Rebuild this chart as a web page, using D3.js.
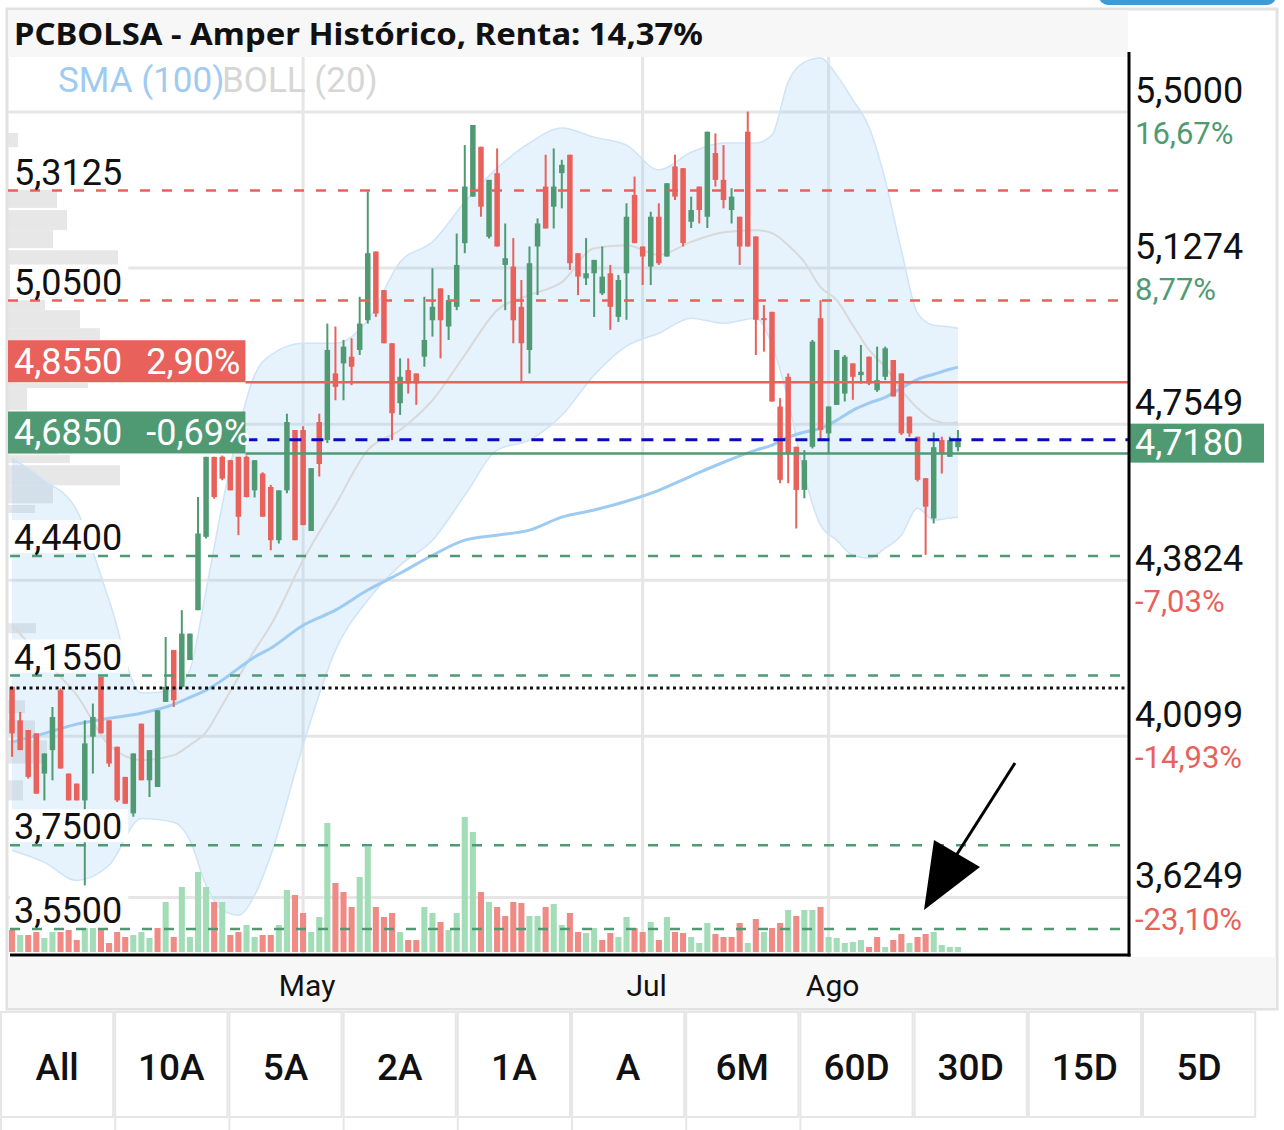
<!DOCTYPE html>
<html lang="es">
  <head>
    <meta charset="UTF-8" />
    <title>PCBOLSA - Amper Histórico</title>
    <script src="https://d3js.org/d3.v7.min.js"></script>
    <style>
      body { margin: 0; background: #fff; }
      svg { display: block; }
    </style>
  </head>
  <body>
    <div class="chart"></div>
    <script>
      // ---- datos (una fila por sesion, 8-mar-2024 a 23-ago-2024) ----
      const opens = [
        4.128, 4.048, 4.025, 4.017, 3.921, 3.977, 4.120, 3.921, 3.897, 3.857,
        4.009, 4.152, 4.048, 3.985, 3.913, 3.826, 4.040, 3.905, 3.889, 4.092,
        4.216, 4.128, 4.192, 4.311, 4.486, 4.677, 4.677, 4.669, 4.677, 4.677,
        4.597, 4.637, 4.605, 4.478, 4.597, 4.741, 4.741, 4.500, 4.760, 4.717,
        4.876, 4.900, 4.916, 4.932, 5.003, 5.167, 5.075, 4.948, 4.805, 4.884,
        4.876, 4.916, 5.003, 5.079, 4.988, 5.035, 5.187, 5.298, 5.417, 5.202,
        5.354, 5.135, 5.131, 5.035, 4.932, 5.179, 5.322, 5.274, 5.354, 5.398,
        5.163, 5.103, 5.115, 5.067, 5.115, 5.011, 5.115, 5.302, 5.179, 5.131,
        5.250, 5.155, 5.370, 5.366, 5.238, 5.322, 5.250, 5.402, 5.338, 5.266,
        5.250, 5.453, 5.203, 5.008, 5.023, 4.797, 4.868, 4.701, 4.598, 4.701,
        5.008, 4.733, 4.801, 4.828, 4.900, 4.872, 4.916, 4.836, 4.868, 4.908,
        4.876, 4.773, 4.725, 4.626, 4.530, 4.717, 4.677, 4.700
      ]
      const highs = [
        4.128, 4.068, 4.025, 4.017, 3.969, 4.080, 4.124, 3.921, 3.897, 4.048,
        4.088, 4.152, 4.048, 3.985, 3.913, 3.969, 4.040, 3.977, 4.072, 4.247,
        4.216, 4.311, 4.255, 4.581, 4.677, 4.677, 4.680, 4.670, 4.677, 4.680,
        4.669, 4.640, 4.610, 4.597, 4.780, 4.741, 4.750, 4.650, 4.780, 4.995,
        4.988, 4.956, 4.960, 5.059, 5.310, 5.167, 5.075, 4.948, 4.912, 4.912,
        4.876, 5.059, 5.127, 5.079, 5.063, 5.210, 5.421, 5.469, 5.417, 5.338,
        5.413, 5.234, 5.199, 5.099, 5.179, 5.246, 5.398, 5.413, 5.386, 5.398,
        5.163, 5.199, 5.147, 5.179, 5.135, 5.111, 5.282, 5.346, 5.179, 5.262,
        5.282, 5.330, 5.398, 5.366, 5.298, 5.322, 5.453, 5.449, 5.421, 5.318,
        5.250, 5.501, 5.203, 5.039, 5.023, 4.817, 4.876, 4.701, 4.693, 4.956,
        5.051, 4.797, 4.932, 4.920, 4.900, 4.944, 4.916, 4.940, 4.940, 4.908,
        4.876, 4.773, 4.725, 4.626, 4.735, 4.725, 4.725, 4.741
      ]
      const lows = [
        3.961, 3.977, 3.909, 3.873, 3.857, 3.905, 3.933, 3.857, 3.857, 3.654,
        3.921, 4.017, 3.937, 3.853, 3.849, 3.818, 3.905, 3.865, 3.889, 4.092,
        4.080, 4.124, 4.192, 4.311, 4.482, 4.577, 4.621, 4.597, 4.490, 4.580,
        4.580, 4.534, 4.454, 4.470, 4.590, 4.478, 4.514, 4.500, 4.630, 4.710,
        4.812, 4.812, 4.848, 4.920, 4.995, 5.011, 4.948, 4.717, 4.777, 4.828,
        4.801, 4.892, 4.964, 4.912, 4.956, 5.027, 5.163, 5.298, 5.250, 5.198,
        5.179, 5.027, 4.948, 4.856, 4.876, 5.063, 5.222, 5.222, 5.270, 5.123,
        5.063, 5.087, 5.011, 5.063, 4.980, 4.999, 5.004, 5.187, 5.087, 5.087,
        5.135, 5.155, 5.290, 5.179, 5.223, 5.234, 5.223, 5.322, 5.270, 5.234,
        5.135, 5.179, 4.920, 4.928, 4.809, 4.614, 4.614, 4.506, 4.578, 4.697,
        4.717, 4.685, 4.801, 4.809, 4.813, 4.852, 4.848, 4.832, 4.860, 4.821,
        4.729, 4.725, 4.618, 4.443, 4.518, 4.637, 4.677, 4.690
      ]
      const closes = [
        4.017, 3.977, 3.913, 3.873, 3.969, 4.056, 3.933, 3.857, 3.857, 3.993,
        4.056, 4.017, 3.945, 3.857, 3.849, 3.969, 3.905, 3.977, 4.072, 4.128,
        4.096, 4.255, 4.255, 4.494, 4.677, 4.581, 4.625, 4.597, 4.534, 4.581,
        4.669, 4.534, 4.478, 4.597, 4.760, 4.478, 4.514, 4.650, 4.660, 4.932,
        4.844, 4.940, 4.892, 4.995, 5.163, 5.019, 4.948, 4.781, 4.868, 4.852,
        4.852, 4.956, 5.035, 5.003, 5.051, 5.135, 5.322, 5.469, 5.274, 5.338,
        5.179, 5.151, 5.003, 4.948, 5.139, 5.234, 5.222, 5.322, 5.374, 5.139,
        5.107, 5.115, 5.147, 5.107, 5.035, 5.099, 5.250, 5.187, 5.155, 5.250,
        5.139, 5.330, 5.298, 5.187, 5.266, 5.266, 5.453, 5.338, 5.290, 5.298,
        5.179, 5.179, 5.004, 5.004, 4.809, 4.622, 4.685, 4.598, 4.669, 4.952,
        4.741, 4.797, 4.932, 4.916, 4.868, 4.880, 4.852, 4.860, 4.936, 4.821,
        4.733, 4.733, 4.622, 4.558, 4.700, 4.685, 4.717, 4.718
      ]
      // volumen (miles de titulos) y si la barra sale verde (1) o roja (0)
      const volumes = [
        22, 17, 17, 20, 14, 20, 20, 22, 12, 24,
        24, 24, 9, 20, 15, 17, 20, 14, 24, 50,
        15, 65, 15, 80, 65, 50, 50, 17, 20, 27,
        15, 17, 17, 27, 62, 57, 39, 20, 35, 129,
        69, 60, 45, 75, 105, 45, 35, 39, 20, 12,
        12, 45, 39, 30, 22, 39, 135, 120, 60, 50,
        45, 36, 50, 49, 36, 36, 45, 48, 27, 39,
        20, 19, 24, 12, 19, 15, 35, 24, 20, 30,
        12, 35, 20, 19, 15, 9, 29, 18, 15, 15,
        29, 9, 33, 20, 24, 29, 42, 36, 42, 42,
        45, 15, 14, 9, 10, 12, 5, 15, 5, 12,
        18, 9, 15, 18, 20, 7, 5, 5
      ]
      const volumeUp = [
        0, 1, 0, 0, 1, 1, 0, 0, 0, 1,
        1, 0, 0, 0, 0, 1, 1, 1, 0, 1,
        0, 1, 1, 1, 1, 0, 1, 0, 0, 1,
        1, 0, 0, 1, 1, 0, 0, 1, 1, 1,
        0, 0, 0, 1, 1, 0, 0, 0, 1, 0,
        0, 1, 1, 0, 1, 1, 1, 1, 0, 1,
        0, 0, 0, 0, 1, 1, 0, 1, 1, 0,
        0, 1, 1, 0, 0, 1, 1, 0, 0, 1,
        0, 1, 0, 0, 1, 1, 1, 0, 0, 0,
        0, 1, 0, 1, 0, 0, 1, 0, 1, 1,
        0, 1, 1, 1, 1, 1, 0, 0, 1, 0,
        0, 1, 0, 0, 1, 1, 1, 1
      ]

      const indIdx = [0, 4, 8, 12, 16, 20, 22, 24, 26, 28, 30, 32, 36, 40, 44, 48, 52, 56, 60, 64, 68, 72, 76, 80, 84, 88, 92, 94, 96, 98, 100, 102, 104, 106, 108, 110, 112, 114, 116, 117]
      const bollUpper = [4.674, 4.621, 4.550, 4.335, 4.113, 4.120, 4.168, 4.359, 4.562, 4.741, 4.872, 4.920, 4.948, 4.948, 5.003, 5.142, 5.190, 5.285, 5.366, 5.426, 5.462, 5.440, 5.421, 5.362, 5.404, 5.426, 5.426, 5.445, 5.572, 5.619, 5.629, 5.588, 5.529, 5.464, 5.338, 5.170, 5.020, 4.991, 4.987, 4.984]
      const bollLower = [3.738, 3.709, 3.666, 3.702, 3.814, 3.805, 3.762, 3.654, 3.595, 3.583, 3.630, 3.726, 3.989, 4.215, 4.335, 4.418, 4.478, 4.585, 4.693, 4.717, 4.776, 4.872, 4.941, 4.972, 5.008, 4.996, 5.008, 4.944, 4.812, 4.633, 4.514, 4.478, 4.442, 4.435, 4.459, 4.490, 4.554, 4.526, 4.531, 4.533]
      const bollMid = [4.275, 4.192, 4.108, 3.989, 3.953, 3.965, 3.989, 4.020, 4.084, 4.151, 4.215, 4.275, 4.430, 4.562, 4.693, 4.741, 4.812, 4.920, 5.027, 5.063, 5.094, 5.175, 5.182, 5.159, 5.190, 5.213, 5.218, 5.211, 5.182, 5.142, 5.082, 5.051, 4.991, 4.932, 4.891, 4.836, 4.793, 4.764, 4.757, 4.760]
      const sma100 = [3.996, 4.017, 4.039, 4.053, 4.065, 4.086, 4.103, 4.120, 4.144, 4.172, 4.199, 4.220, 4.275, 4.311, 4.359, 4.399, 4.442, 4.478, 4.490, 4.502, 4.533, 4.550, 4.571, 4.597, 4.631, 4.664, 4.693, 4.705, 4.724, 4.736, 4.745, 4.764, 4.788, 4.805, 4.819, 4.841, 4.862, 4.874, 4.886, 4.891]

      // perfil de volumen por precio: [precio alto, precio bajo, volumen]
      const profile = [
        [5.450, 5.416, 10], [5.314, 5.271, 49], [5.266, 5.218, 59], [5.218, 5.175, 45],
        [5.170, 5.127, 110], [5.123, 5.056, 70], [5.051, 5.027, 37], [5.027, 4.984, 72],
        [4.984, 4.955, 92], [4.955, 4.855, 60], [4.853, 4.841, 80], [4.841, 4.788, 19],
        [4.784, 4.683, 50], [4.681, 4.662, 62], [4.657, 4.609, 112], [4.609, 4.566, 45],
        [4.562, 4.543, 27], [4.280, 4.256, 28], [4.096, 4.065, 17], [4.048, 4.012, 27],
        [4.000, 3.945, 39], [3.905, 3.857, 15]
      ]

      // niveles
      const resistances = [5.3125, 5.05]
      const supports = [4.44, 4.155, 3.75, 3.55]
      const stopLevel = { value: 4.855, pct: '2,90%' }
      const entryLevel = { value: 4.685, pct: '-0,69%' }
      const lastPrice = 4.718
      const startPrice = 4.125

      // eje derecho
      const rightTicks = [5.5, 5.1274, 4.7549, 4.3824, 4.0099, 3.6249]
      const rightPct = ['16,67%', '8,77%', '', '-7,03%', '-14,93%', '-23,10%']
      const monthLabels = ['May', 'Jul', 'Ago']
      const monthNums = [4, 6, 7]
      const ranges = ['All', '10A', '5A', '2A', '1A', 'A', '6M', '60D', '30D', '15D', '5D']
      const title = 'PCBOLSA - Amper Histórico, Renta: 14,37%'

      // sesiones bursatiles
      const holidays = ['2024-03-29', '2024-04-01', '2024-05-01']
      const dayKey = d3.timeFormat('%Y-%m-%d')
      const sessions = d3.timeDay
        .range(new Date(2024, 2, 8), new Date(2024, 7, 24))
        .filter((d) => d.getDay() % 6 !== 0 && !holidays.includes(dayKey(d)))
      const keys = sessions.map(dayKey)

      const green = '#4f9a73'
      const red = '#e8615a'

      // lienzo
      const width = 1284
      const height = 1130
      const pL = 8, pR = 1129, pT = 57, pB = 955
      const svg = d3.select('.chart').append('svg').attr('width', width).attr('height', height)
        .style('font-family', 'Roboto, "Noto Sans", sans-serif')

      const x = d3.scaleBand().domain(keys).range([8, 962])
      const bw = x.bandwidth()
      const cx = (i) => x(keys[i]) + bw / 2
      const y = d3.scaleLinear().domain([3.55, 5.5]).range([929, 112])
      const yv = d3.scaleLinear().domain([0, 140]).range([952, 812])
      const pw = d3.scaleLinear().domain([0, 120]).range([0, 120])
      const fmt4 = (v) => d3.format('.4f')(v).replace('.', ',')

      // boton azul arriba a la derecha
      svg.append('rect').attr('x', 1099).attr('y', -20).attr('width', 177).attr('height', 25).attr('rx', 9).attr('fill', '#3f9ad8')

      // marco
      svg.append('rect').attr('x', 7).attr('y', 9).attr('width', 1270).attr('height', 1000)
        .attr('fill', '#fff').attr('stroke', '#e2e2e2').attr('stroke-width', 3)
      svg.append('rect').attr('x', 8).attr('y', 10).attr('width', 1120).attr('height', 47).attr('fill', '#f7f7f7')
      svg.append('rect').attr('x', 8).attr('y', 957).attr('width', 1268).attr('height', 51).attr('fill', '#f7f7f7')

      svg.append('text').attr('x', 14).attr('y', 45)
        .attr('font-family', '"Noto Sans", sans-serif').attr('font-weight', 700).attr('font-size', 31)
        .attr('textLength', 689).attr('lengthAdjust', 'spacingAndGlyphs').attr('fill', '#111')
        .text(title)

      svg.append('clipPath').attr('id', 'plot').append('rect')
        .attr('x', pL).attr('y', pT).attr('width', pR - pL).attr('height', pB - pT)
      const chart = svg.append('g').attr('clip-path', 'url(#plot)')

      // rejilla
      chart.append('g').selectAll('line').data(rightTicks).join('line')
        .attr('x1', pL).attr('x2', pR).attr('y1', (d) => y(d)).attr('y2', (d) => y(d))
        .attr('stroke', '#e6e6e6').attr('stroke-width', 3)
      const monthKeys = monthNums.map((m) => keys.find((k, i) => sessions[i].getMonth() === m))
      chart.append('g').selectAll('line').data(monthKeys).join('line')
        .attr('x1', (d) => x(d) + bw / 2).attr('x2', (d) => x(d) + bw / 2).attr('y1', pT).attr('y2', pB)
        .attr('stroke', '#e6e6e6').attr('stroke-width', 3)

      // perfil de volumen
      chart.append('g').selectAll('rect').data(profile).join('rect')
        .attr('x', pL).attr('y', (d) => y(d[0])).attr('width', (d) => pw(d[2]))
        .attr('height', (d) => y(d[1]) - y(d[0]))
        .attr('fill', '#e3e3e3').attr('opacity', 0.85)

      // bandas de bollinger
      const ind = indIdx.map((i, k) => ({ i, up: bollUpper[k], lo: bollLower[k], mid: bollMid[k], sma: sma100[k] }))
      chart.append('path').datum(ind)
        .attr('d', d3.area().x((d) => cx(d.i)).y0((d) => y(d.lo)).y1((d) => y(d.up)).curve(d3.curveMonotoneX))
        .attr('fill', '#8fc6f1').attr('fill-opacity', 0.22)
      ;['up', 'lo'].forEach((k) => {
        chart.append('path').datum(ind)
          .attr('d', d3.line().x((d) => cx(d.i)).y((d) => y(d[k])).curve(d3.curveMonotoneX))
          .attr('fill', 'none').attr('stroke', '#cfe4f7').attr('stroke-width', 1.5)
      })
      chart.append('path').datum(ind)
        .attr('d', d3.line().x((d) => cx(d.i)).y((d) => y(d.mid)).curve(d3.curveMonotoneX))
        .attr('fill', 'none').attr('stroke', '#d9d9d9').attr('stroke-width', 2)
      chart.append('path').datum(ind)
        .attr('d', d3.line().x((d) => cx(d.i)).y((d) => y(d.sma)).curve(d3.curveMonotoneX))
        .attr('fill', 'none').attr('stroke', '#9dcbf1').attr('stroke-width', 3)

      // volumen
      chart.append('g').selectAll('rect').data(volumes).join('rect')
        .attr('x', (d, i) => x(keys[i]) + 1).attr('width', bw - 2)
        .attr('y', (d) => yv(d)).attr('height', (d) => yv(0) - yv(d))
        .attr('fill', (d, i) => (volumeUp[i] ? '#a2ddb8' : '#ef8a85'))

      // velas
      const candles = keys.map((k, i) => ({ k, o: opens[i], h: highs[i], l: lows[i], c: closes[i] }))
      const cg = chart.append('g').selectAll('g').data(candles).join('g')
        .attr('fill', (d) => (d.c >= d.o ? green : red)).attr('stroke', (d) => (d.c >= d.o ? green : red))
      cg.append('line')
        .attr('x1', (d) => x(d.k) + bw / 2).attr('x2', (d) => x(d.k) + bw / 2)
        .attr('y1', (d) => y(d.h)).attr('y2', (d) => y(d.l)).attr('stroke-width', 2)
      cg.append('rect')
        .attr('x', (d) => x(d.k) + bw / 2 - 2.75).attr('width', 5.5)
        .attr('y', (d) => y(Math.max(d.o, d.c)))
        .attr('height', (d) => Math.max(2, Math.abs(y(d.o) - y(d.c))))
        .attr('stroke', 'none')

      // niveles
      const hline = (v, color, dash, x1, w) =>
        chart.append('line').attr('x1', x1).attr('x2', pR).attr('y1', y(v)).attr('y2', y(v))
          .attr('stroke', color).attr('stroke-width', w).attr('stroke-dasharray', dash)
      resistances.forEach((v) => hline(v, red, '10,12', pL, 2.5))
      supports.forEach((v) => hline(v, green, '10,12', pL + 2, 2.5))
      hline(startPrice, '#111', '3,3.5', pL + 2, 3)

      // etiquetas de nivel a la izquierda
      ;[...resistances, ...supports].forEach((v) => {
        const g = svg.append('g')
        const t = g.append('text').attr('x', 14).attr('y', y(v) - 6)
          .attr('font-size', 36).attr('fill', '#111').text(fmt4(v))
        const len = t.node().getComputedTextLength()
        g.insert('rect', 'text').attr('x', 10).attr('y', y(v) - 36).attr('width', len + 10).attr('height', 33).attr('fill', '#fff')
      })

      let tagRight = pL
      ;[[stopLevel, red], [entryLevel, green]].forEach(([lv, color], n) => {
        const yy = y(lv.value)
        const g = svg.append('g')
        const t = g.append('text').attr('x', 14).attr('y', yy - 8).attr('font-size', 36).attr('fill', '#fff')
        t.append('tspan').text(fmt4(lv.value))
        t.append('tspan').attr('dx', 24).text(lv.pct)
        const bb = t.node().getBBox()
        if (n === 0) tagRight = bb.x + bb.width + 5
        g.insert('rect', 'text').attr('class', 'tag').attr('x', 8).attr('y', yy - 42).attr('height', 42).attr('fill', color)
      })
      svg.selectAll('rect.tag').attr('width', tagRight - 8)
      hline(stopLevel.value, red, null, tagRight, 2.5)
      hline(entryLevel.value, green, null, tagRight, 2.5)
      hline(lastPrice, '#0a0ac0', '12,10', tagRight, 3)

      // leyenda
      svg.append('text').attr('x', 58).attr('y', 92).attr('font-size', 35).attr('fill', '#9fcbf2').text('SMA (100)')
      svg.append('text').attr('x', 222).attr('y', 92).attr('font-size', 35).attr('fill', '#d6d6d6').text('BOLL (20)')

      // eje derecho
      const ga = svg.append('g').attr('transform', `translate(${pR},0)`)
        .call(d3.axisRight(y).tickValues(rightTicks).tickSize(0).tickFormat(fmt4))
      ga.select('.domain').remove()
      ga.selectAll('text').attr('x', 6).attr('y', -10).attr('dy', null)
        .attr('font-size', 36).attr('font-family', 'Roboto, sans-serif').attr('fill', '#111')
      svg.append('g').selectAll('text').data(rightTicks).join('text')
        .attr('x', pR + 6).attr('y', (d) => y(d) + 32).attr('font-size', 31)
        .attr('fill', (d, i) => (rightPct[i].startsWith('-') ? red : green))
        .text((d, i) => rightPct[i])

      // precio actual
      svg.append('rect').attr('x', pR).attr('y', y(lastPrice) - 16).attr('width', 135).attr('height', 39).attr('fill', green)
      svg.append('text').attr('x', pR + 6).attr('y', y(lastPrice) + 15).attr('font-size', 36).attr('fill', '#fff').text(fmt4(lastPrice))

      svg.append('line').attr('x1', pR).attr('x2', pR).attr('y1', 52).attr('y2', pB + 1.5)
        .attr('stroke', '#000').attr('stroke-width', 3)
      svg.append('line').attr('x1', 10).attr('x2', pR + 1.5).attr('y1', pB).attr('y2', pB)
        .attr('stroke', '#000').attr('stroke-width', 3)

      // eje de fechas
      const gx = svg.append('g').attr('transform', `translate(0,${pB})`)
        .call(d3.axisBottom(x).tickValues(monthKeys).tickSize(0).tickFormat((d, i) => monthLabels[i]))
      gx.select('.domain').remove()
      gx.selectAll('text').attr('y', 41).attr('dy', null).attr('dx', 4)
        .attr('font-size', 30).attr('font-family', 'Roboto, sans-serif').attr('fill', '#111')

      // flecha
      svg.append('line').attr('x1', 1015).attr('y1', 763).attr('x2', 952).attr('y2', 862)
        .attr('stroke', '#000').attr('stroke-width', 3)
      svg.append('polygon').attr('points', '934,840 980,867 924,910').attr('fill', '#000')

      // botones de rango
      const bwid = 114.2
      const bg = svg.append('g').selectAll('g').data(ranges).join('g')
        .attr('transform', (d, i) => `translate(${i * bwid},1012)`)
      bg.append('rect').attr('x', 1).attr('y', 0).attr('width', bwid - 2).attr('height', 105)
        .attr('fill', '#fff').attr('stroke', '#e6e6e6').attr('stroke-width', 2)
      bg.append('text').attr('x', bwid / 2).attr('y', 68).attr('text-anchor', 'middle')
        .attr('font-size', 37).attr('font-weight', 500).attr('fill', '#111').text((d) => d)
      svg.append('g').selectAll('line').data(d3.range(8)).join('line')
        .attr('x1', (d) => d * bwid + 1).attr('x2', (d) => d * bwid + 1).attr('y1', 1118).attr('y2', 1130)
        .attr('stroke', '#e6e6e6').attr('stroke-width', 2)
    </script>
  </body>
</html>
